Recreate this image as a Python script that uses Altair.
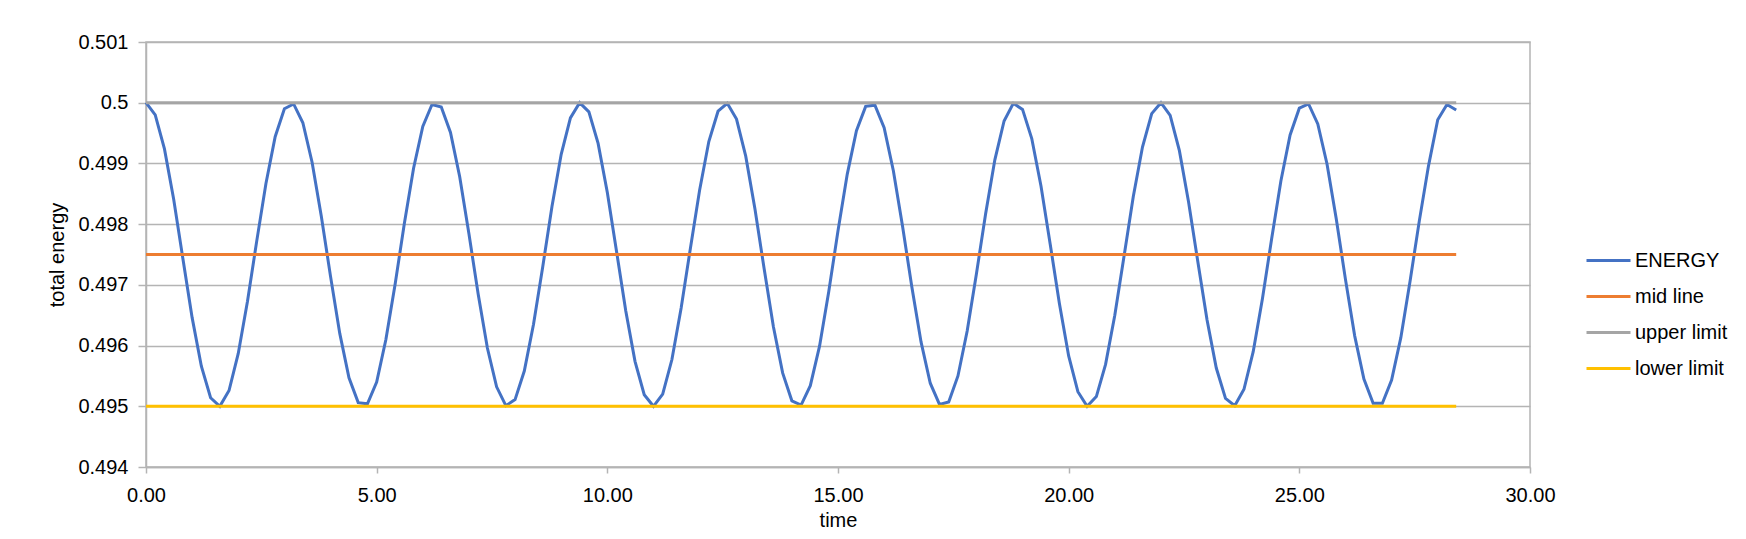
import altair as alt
import pandas as pd

TIME = [
    0.0, 0.2, 0.4, 0.6, 0.8, 1.0, 1.2, 1.4, 1.6, 1.8,
    2.0, 2.2, 2.4, 2.6, 2.8, 3.0, 3.2, 3.4, 3.6, 3.8,
    4.0, 4.2, 4.4, 4.6, 4.8, 5.0, 5.2, 5.4, 5.6, 5.8,
    6.0, 6.2, 6.4, 6.6, 6.8, 7.0, 7.2, 7.4, 7.6, 7.8,
    8.0, 8.2, 8.4, 8.6, 8.8, 9.0, 9.2, 9.4, 9.6, 9.8,
    10.0, 10.2, 10.4, 10.6, 10.8, 11.0, 11.2, 11.4, 11.6, 11.8,
    12.0, 12.2, 12.4, 12.6, 12.8, 13.0, 13.2, 13.4, 13.6, 13.8,
    14.0, 14.2, 14.4, 14.6, 14.8, 15.0, 15.2, 15.4, 15.6, 15.8,
    16.0, 16.2, 16.4, 16.6, 16.8, 17.0, 17.2, 17.4, 17.6, 17.8,
    18.0, 18.2, 18.4, 18.6, 18.8, 19.0, 19.2, 19.4, 19.6, 19.8,
    20.0, 20.2, 20.4, 20.6, 20.8, 21.0, 21.2, 21.4, 21.6, 21.8,
    22.0, 22.2, 22.4, 22.6, 22.8, 23.0, 23.2, 23.4, 23.6, 23.8,
    24.0, 24.2, 24.4, 24.6, 24.8, 25.0, 25.2, 25.4, 25.6, 25.8,
    26.0, 26.2, 26.4, 26.6, 26.8, 27.0, 27.2, 27.4, 27.6, 27.8,
    28.0, 28.2, 28.4,
]

ENERGY = [
    0.50000, 0.49980, 0.49924, 0.49841, 0.49743, 0.49646, 0.49566, 0.49514, 0.49500, 0.49526,
    0.49587, 0.49673, 0.49772, 0.49867, 0.49944, 0.49990, 0.49998, 0.49967, 0.49902, 0.49813,
    0.49714, 0.49620, 0.49547, 0.49506, 0.49504, 0.49540, 0.49610, 0.49701, 0.49801, 0.49892,
    0.49961, 0.49997, 0.49993, 0.49951, 0.49878, 0.49784, 0.49685, 0.49596, 0.49532, 0.49501,
    0.49511, 0.49558, 0.49635, 0.49730, 0.49829, 0.49915, 0.49975, 0.50000, 0.49985, 0.49933,
    0.49852, 0.49755, 0.49657, 0.49574, 0.49519, 0.49500, 0.49520, 0.49577, 0.49662, 0.49760,
    0.49856, 0.49936, 0.49986, 0.49999, 0.49973, 0.49912, 0.49825, 0.49726, 0.49631, 0.49555,
    0.49509, 0.49502, 0.49534, 0.49599, 0.49689, 0.49789, 0.49882, 0.49954, 0.49994, 0.49996,
    0.49959, 0.49888, 0.49796, 0.49697, 0.49606, 0.49538, 0.49503, 0.49507, 0.49550, 0.49624,
    0.49718, 0.49817, 0.49906, 0.49970, 0.49999, 0.49989, 0.49941, 0.49863, 0.49767, 0.49669,
    0.49583, 0.49524, 0.49500, 0.49516, 0.49569, 0.49650, 0.49747, 0.49845, 0.49927, 0.49982,
    0.50000, 0.49979, 0.49921, 0.49836, 0.49738, 0.49642, 0.49563, 0.49513, 0.49501, 0.49528,
    0.49590, 0.49677, 0.49776, 0.49871, 0.49947, 0.49991, 0.49998, 0.49965, 0.49899, 0.49809,
    0.49709, 0.49616, 0.49545, 0.49505, 0.49505, 0.49543, 0.49613, 0.49706, 0.49805, 0.49896,
    0.49972, 0.49997, 0.49988,
]

MID_LINE = 0.4975
UPPER_LIMIT = 0.5
LOWER_LIMIT = 0.495

SERIES = ["ENERGY", "mid line", "upper limit", "lower limit"]
COLORS = ["#4472C4", "#ED7D31", "#A5A5A5", "#FFC000"]

Y_TICKS = [0.494, 0.495, 0.496, 0.497, 0.498, 0.499, 0.500, 0.501]
X_TICKS = [0, 5, 10, 15, 20, 25, 30]

rows = []
for name, vals in [
    ("ENERGY", ENERGY),
    ("mid line", [MID_LINE] * len(TIME)),
    ("upper limit", [UPPER_LIMIT] * len(TIME)),
    ("lower limit", [LOWER_LIMIT] * len(TIME)),
]:
    for t, v in zip(TIME, vals):
        rows.append({"time": t, "value": v, "series": name})
df = pd.DataFrame(rows)

FONT = "Liberation Sans"
GRID = "#b4b4b4"

chart = (
    alt.Chart(df)
    .mark_line(strokeWidth=3)
    .encode(
        x=alt.X(
            "time:Q",
            scale=alt.Scale(domain=[0, 30], nice=False, zero=False),
            axis=alt.Axis(
                values=X_TICKS,
                format=".2f",
                title="time",
                grid=False,
                tickSize=6,
                labelPadding=12,
                labelFlush=False,
                titlePadding=5,
            ),
        ),
        y=alt.Y(
            "value:Q",
            scale=alt.Scale(domain=[0.494, 0.501], nice=False, zero=False),
            axis=alt.Axis(
                values=Y_TICKS,
                labelExpr="format(datum.value, '.3~f')",
                title="total energy",
                grid=True,
                tickSize=8,
                labelPadding=10,
                labelFlush=False,
                titlePadding=10,
            ),
        ),
        color=alt.Color(
            "series:N",
            sort=SERIES,
            scale=alt.Scale(domain=SERIES, range=COLORS),
            legend=alt.Legend(
                title=None,
                orient="none",
                legendX=1450,
                legendY=206,
                symbolType="M-2,0H2",
                symbolSize=484,
                symbolStrokeWidth=3,
                labelOffset=14,
                rowPadding=13,
                padding=0,
            ),
        ),
    )
    .properties(
        width=1384,
        height=425,
        autosize=alt.AutoSizeParams(type="none"),
        padding={"left": 138, "top": 34, "right": 206, "bottom": 64},
    )
    .configure_view(stroke=GRID, strokeWidth=1.5)
    .configure_axis(
        labelFont=FONT,
        titleFont=FONT,
        labelFontSize=20,
        titleFontSize=20,
        titleFontWeight="normal",
        labelColor="#000000",
        titleColor="#000000",
        domainColor=GRID,
        domainWidth=1.5,
        tickColor=GRID,
        tickWidth=1.5,
        gridColor=GRID,
        gridWidth=1.5,
    )
    .configure_legend(
        labelFont=FONT,
        labelFontSize=20,
        labelColor="#000000",
    )
)

chart.save("out.html", embed_options={"renderer": "svg", "actions": False})
